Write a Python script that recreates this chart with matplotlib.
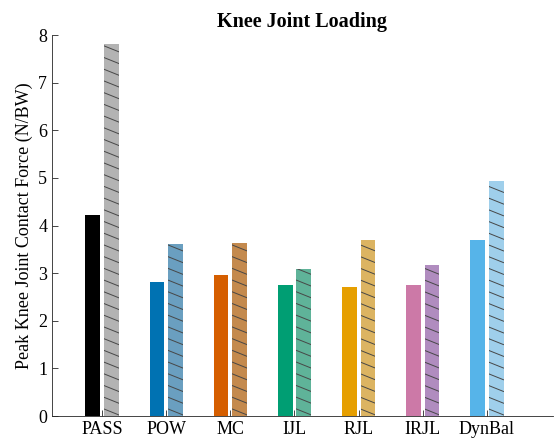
import numpy as np
import matplotlib.pyplot as plt

plt.rcParams['font.family'] = ['Liberation Serif', 'DejaVu Serif']

# datos
tareas = ['PASS', 'POW', 'MC', 'IJL', 'RJL', 'IRJL', 'DynBal']
carga_a = [4.22, 2.81, 2.96, 2.75, 2.71, 2.75, 3.70]
carga_b = [7.82, 3.61, 3.63, 3.09, 3.70, 3.17, 4.94]
colores = ['#000000', '#0072B2', '#D55E00', '#009E73', '#E69F00', '#CC79A7', '#56B4E9']
colores_b = ['#b3b3b3', '#6a9fc0', '#c48a4e', '#5fb399', '#dcb462', '#b08cbf', '#9fcfeb']

x = np.arange(1, len(tareas) + 1)
w = 0.23
d = 0.145

fig = plt.figure(figsize=(5.54, 4.44), dpi=100)
ax = fig.add_axes([0.094, 0.063, 0.904, 0.858])

ax.bar(x - d, carga_a, w, color=colores, linewidth=0)
barras = ax.bar(x + d, carga_b, w, color=colores_b, linewidth=0)

ax.set_xlim(0.22, 8.03)
ax.set_ylim(0, 8)

# rayado propio: lineas poco inclinadas, recortadas a cada barra
paso = 0.246
caida = 0.124
for b in barras:
    x0 = b.get_x()
    x1 = x0 + b.get_width()
    for y0 in np.arange(paso * 0.6, b.get_height() + caida, paso):
        ln, = ax.plot([x0, x1], [y0, y0 - caida], color='#474747', lw=0.7)
        ln.set_clip_path(b)

ax.set_xticks(x)
ax.set_xticklabels(tareas, fontsize=13)
ax.set_yticks(range(0, 9))
ax.tick_params(axis='y', labelsize=13, direction='in', length=4, width=0.6, colors='#262626', labelcolor='black')
ax.tick_params(axis='x', direction='in', length=4, width=0.6, colors='#262626', labelcolor='black')
ax.spines['top'].set_visible(False)
ax.spines['right'].set_visible(False)
for s in ['left', 'bottom']:
    ax.spines[s].set_color('#262626')
    ax.spines[s].set_linewidth(0.6)
ax.set_ylabel('Peak Knee Joint Contact Force (N/BW)', fontsize=13)
ax.set_title('Knee Joint Loading', fontsize=14.5, fontweight='bold', pad=6)

plt.savefig('out.png', dpi=100)
